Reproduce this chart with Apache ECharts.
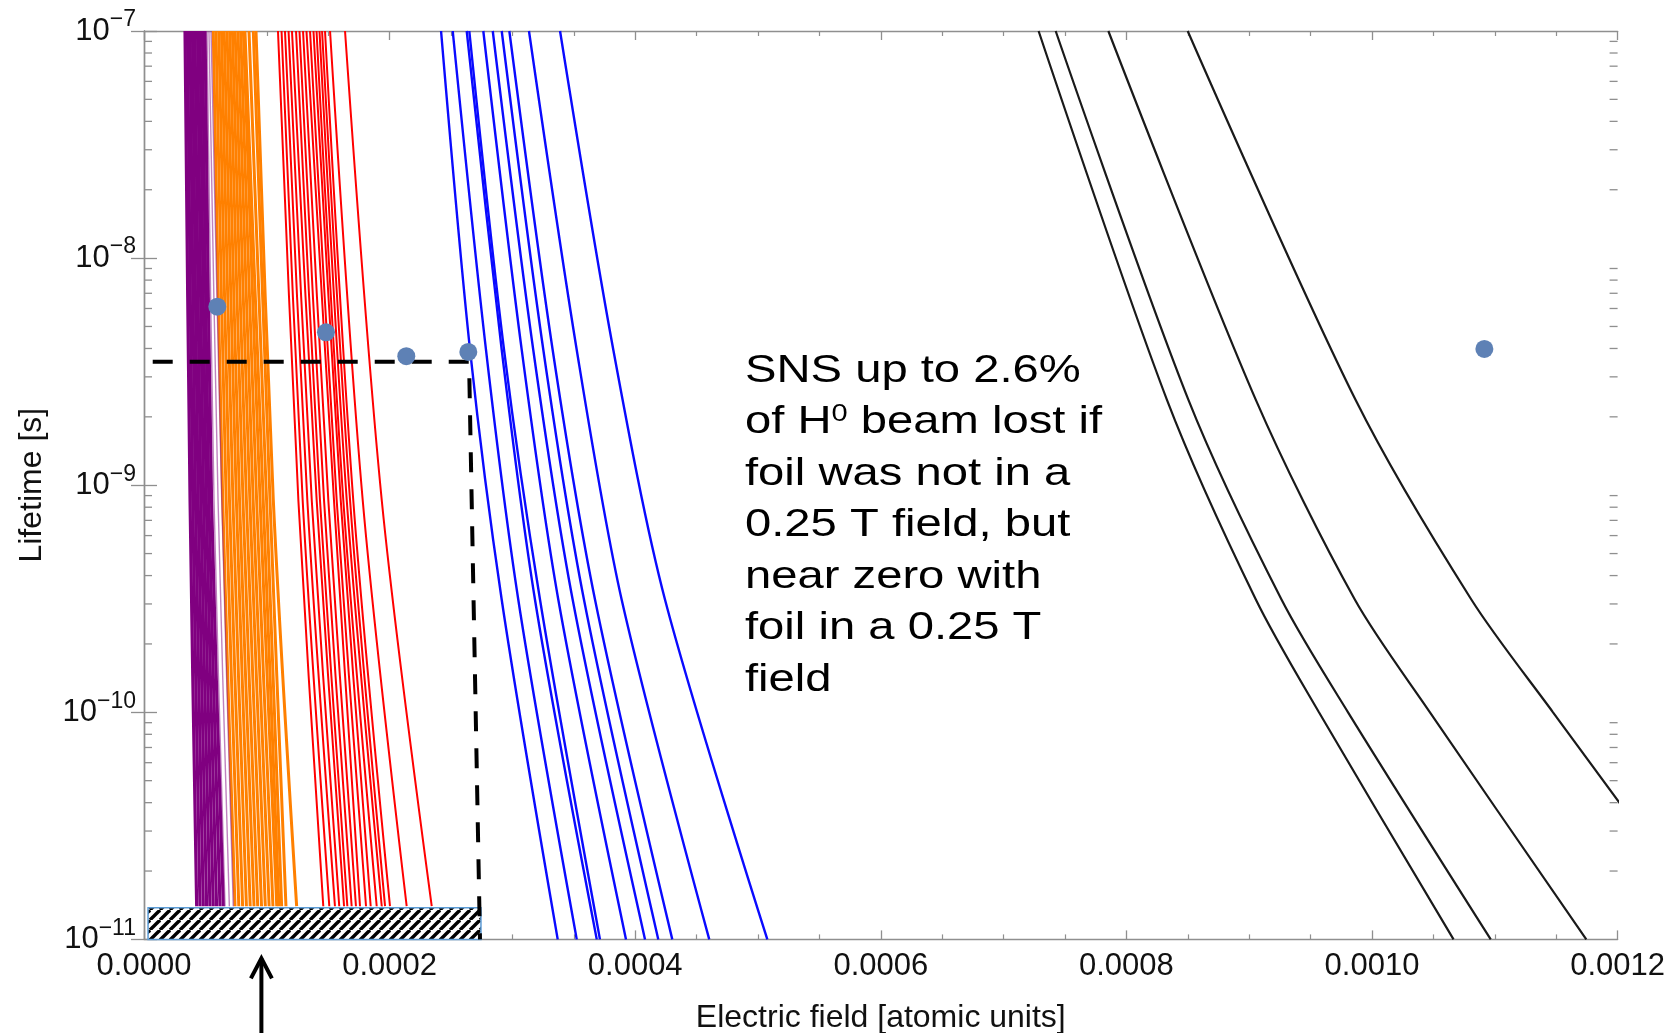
<!DOCTYPE html>
<html><head><meta charset="utf-8">
<script src="https://cdn.jsdelivr.net/npm/echarts@6/dist/echarts.min.js"></script>
<style>html,body{margin:0;padding:0;background:#fff}#c{width:1672px;height:1033px}</style>
</head><body><div id="c"></div>
<script>
// ---------- data ----------
const xMin = 0, xMax = 0.0012, xStep = 0.0002;
const yMin = 1e-11, yMax = 1e-7;

// purple bundle: x at three lifetime levels
const purpleY   = [1e-7, 8.6e-10, 1.4e-11];
const purpleTop = [3.34e-5,3.54e-5,3.75e-5,3.95e-5,4.15e-5,4.36e-5,4.56e-5,4.76e-5,4.97e-5];
const purpleMid = [3.75e-5,3.97e-5,4.19e-5,4.41e-5,4.63e-5,4.85e-5,5.07e-5,5.28e-5,5.50e-5];
const purpleBot = [4.29e-5,4.56e-5,4.83e-5,5.10e-5,5.37e-5,5.64e-5,5.91e-5,6.19e-5,6.46e-5];
const purpleFaintTop = [5.13e-5,5.29e-5,5.46e-5];
const purpleFaintMid = [5.70e-5,6.03e-5,6.33e-5];
const purpleFaintBot = [6.60e-5,6.95e-5,7.27e-5];

// orange bundle
const orangeY   = [1e-7, 8.6e-10, 1.4e-11];
const orangeTop = [5.64e-5,5.86e-5,6.09e-5,6.31e-5,6.53e-5,6.76e-5,6.98e-5,7.20e-5,7.42e-5,7.65e-5,7.87e-5,8.09e-5,8.22e-5,8.55e-5,8.90e-5,9.12e-5];
const orangeMid = [6.41e-5,6.69e-5,6.96e-5,7.24e-5,7.52e-5,7.78e-5,8.06e-5,8.34e-5,8.62e-5,8.89e-5,9.17e-5,9.45e-5,9.71e-5,9.98e-5,1.026e-4,1.053e-4];
const orangeBot = [7.41e-5,7.72e-5,8.03e-5,8.34e-5,8.65e-5,8.96e-5,9.26e-5,9.57e-5,9.88e-5,1.019e-4,1.050e-4,1.081e-4,1.099e-4,1.121e-4,1.156e-4,1.243e-4];

// red bundle
const redY   = [1e-7, 8.6e-10, 1.4e-11];
const redTop = [1.091e-4,1.120e-4,1.148e-4,1.177e-4,1.205e-4,1.238e-4,1.266e-4,1.295e-4,1.323e-4,1.352e-4,1.380e-4,1.405e-4,1.429e-4,1.450e-4,1.474e-4,1.515e-4,1.637e-4];
const redMid = [1.257e-4,1.292e-4,1.330e-4,1.366e-4,1.406e-4,1.433e-4,1.466e-4,1.501e-4,1.547e-4,1.569e-4,1.602e-4,1.623e-4,1.651e-4,1.678e-4,1.704e-4,1.781e-4,1.936e-4];
const redBot = [1.460e-4,1.509e-4,1.555e-4,1.590e-4,1.629e-4,1.656e-4,1.691e-4,1.726e-4,1.759e-4,1.808e-4,1.846e-4,1.895e-4,1.936e-4,1.963e-4,2.003e-4,2.139e-4,2.343e-4];

// blue curves: x at four lifetime levels
const blueY  = [1e-7, 3.94e-9, 3.13e-10, 1e-11];
const blueL0 = [2.419e-4,2.514e-4,2.628e-4,2.649e-4,2.763e-4,2.840e-4,2.913e-4,2.975e-4,3.135e-4,3.388e-4];
const blueL1 = [2.655e-4,2.785e-4,2.913e-4,2.932e-4,3.076e-4,3.170e-4,3.252e-4,3.328e-4,3.524e-4,3.822e-4];
const blueL2 = [2.913e-4,3.048e-4,3.184e-4,3.225e-4,3.374e-4,3.491e-4,3.583e-4,3.673e-4,3.890e-4,4.243e-4];
const blueL3 = [3.369e-4,3.524e-4,3.687e-4,3.713e-4,3.925e-4,4.080e-4,4.188e-4,4.302e-4,4.603e-4,5.076e-4];

// black curves: x at five lifetime levels
const blackY  = [1e-7, 2.37e-9, 3.13e-10, 1e-10, 1e-11];
const blackL0 = [7.285e-4, 7.424e-4, 7.853e-4, 8.499e-4];
const blackL1 = [8.331e-4, 8.506e-4, 9.055e-4, 9.867e-4];
const blackL2 = [9.055e-4, 9.264e-4, 9.861e-4, 1.0810e-3];
const blackL3 = [9.568e-4, 9.805e-4, 1.0472e-3, 1.1474e-3];
const blackL4 = [1.0664e-3, 1.0967e-3, 1.1745e-3, 1.2834e-3];

// blue dots
const dotsX = [5.97e-5, 1.482e-4, 2.136e-4, 2.641e-4, 1.0915e-3];
const dotsY = [6.11e-9, 4.71e-9, 3.70e-9, 3.86e-9, 3.98e-9];

// dashed guide
const dashX = [7.1e-6, 2.647e-4, 2.736e-4];
const dashY = [3.50e-9, 3.50e-9, 1e-11];

// hatched box
const hatchX = [3.3e-6, 2.744e-4];
const hatchY = [1e-11, 1.38e-11];

// arrow below axis
const arrowX = 9.56e-5;

const annotation = 'SNS up to 2.6%\nof H{sup|0} beam lost if\nfoil was not in a\n0.25 T field, but\nnear zero with\nfoil in a 0.25 T\nfield';

// ---------- chart ----------
const FONT = "'Liberation Sans', Arial, Helvetica, sans-serif";
const FRAME = '#8f8f8f';
const chart = echarts.init(document.getElementById('c'), null, {renderer: 'canvas'});

function bundle(levels, ys, color, width, opacity, z, smooth) {
  const out = [];
  for (let i = 0; i < levels[0].length; i++) {
    out.push({
      type: 'line', silent: true, symbol: 'none', showSymbol: false, animation: false, z: z,
      smooth: smooth,
      data: ys.map((y, k) => [levels[k][i], y]),
      lineStyle: {color: color, width: width, opacity: opacity}
    });
  }
  return out;
}

const series = [].concat(
  bundle([blackL0, blackL1, blackL2, blackL3, blackL4], blackY, '#1a1a1a', 2.2, 1, 2, 0.3),
  bundle([blueL0, blueL1, blueL2, blueL3], blueY, '#0a0aff', 2.4, 1, 2, 0.3),
  bundle([redTop, redMid, redBot], redY, '#ff0000', 2, 1, 2, 0.3),
  bundle([orangeTop, orangeMid, orangeBot], orangeY, '#ff8000', 3, 1, 2, 0.3),
  bundle([purpleTop, purpleMid, purpleBot], purpleY, '#800080', 3.2, 1, 2, 0.3),
  bundle([purpleFaintTop, purpleFaintMid, purpleFaintBot], purpleY, '#8a1a8a', 1.4, 0.55, 2, 0.3)
);

// hatch pattern
const pc = document.createElement('canvas');
pc.width = 10; pc.height = 10;
const g = pc.getContext('2d');
g.fillStyle = '#fff'; g.fillRect(0, 0, 10, 10);
g.strokeStyle = '#000'; g.lineWidth = 3.4;
[-10, 0, 10].forEach(k => { g.beginPath(); g.moveTo(k, 10); g.lineTo(k + 10, 0); g.stroke(); });

series.push({
  type: 'custom', silent: true, animation: false, z: 5,
  data: [[hatchX[0], hatchY[1], hatchX[1], hatchY[0]]],
  renderItem: function (params, api) {
    const p0 = api.coord([api.value(0), api.value(1)]);
    const p1 = api.coord([api.value(2), api.value(3)]);
    return {type: 'rect', shape: {x: p0[0], y: p0[1], width: p1[0] - p0[0], height: p1[1] - p0[1]},
      style: {fill: {image: pc, repeat: 'repeat'}, stroke: '#5b9bd5', lineWidth: 1.5}};
  }
});

series.push({
  type: 'line', silent: true, symbol: 'none', animation: false, z: 6,
  data: dashX.map((x, i) => [x, dashY[i]]),
  lineStyle: {color: '#000', width: 4, type: [20, 17]}
});

series.push({
  type: 'scatter', silent: true, animation: false, z: 8,
  symbolSize: 18,
  itemStyle: {color: '#5e81b5', opacity: 1},
  data: dotsX.map((x, i) => [x, dotsY[i]])
});

// minor ticks of the log axis (2..9 of each decade), drawn through the axis scale
const minorY = [];
for (let e = -11; e < -7; e++) for (let m = 2; m <= 9; m++) minorY.push([xMin, m * Math.pow(10, e)]);
series.push({
  type: 'custom', silent: true, animation: false, z: 9,
  data: minorY,
  renderItem: function (params, api) {
    const l = api.coord([xMin, api.value(1)]);
    const r = api.coord([xMax, api.value(1)]);
    const st = {stroke: FRAME, lineWidth: 1.3};
    return {type: 'group', children: [
      {type: 'line', shape: {x1: l[0], y1: l[1], x2: l[0] + 8, y2: l[1]}, style: st},
      {type: 'line', shape: {x1: r[0] - 8, y1: r[1], x2: r[0], y2: r[1]}, style: st}
    ]};
  }
});

const axLine = {show: true, lineStyle: {color: FRAME, width: 1.4}};
const xCommon = {
  type: 'value', min: xMin, max: xMax, interval: xStep,
  axisLine: axLine, splitLine: {show: false},
  axisTick: {show: true, inside: true, length: 9, lineStyle: {color: FRAME, width: 1.3}},
  minorTick: {show: true, splitNumber: 4, length: 5, lineStyle: {color: FRAME, width: 1.2}},
  minorSplitLine: {show: false}
};
const yCommon = {
  type: 'log', logBase: 10, min: yMin, max: yMax,
  axisLine: axLine, splitLine: {show: false},
  axisTick: {show: true, inside: true, length: 13, lineStyle: {color: FRAME, width: 1.3}},
  minorTick: {show: false}
};

chart.setOption({
  animation: false,
  backgroundColor: '#fff',
  grid: {left: 144, right: 54.4, top: 31, bottom: 93.6, containLabel: false, outerBoundsMode: 'none'},
  xAxis: [
    Object.assign({}, xCommon, {
      position: 'bottom',
      name: 'Electric field [atomic units]', nameLocation: 'middle', nameGap: 63,
      nameTextStyle: {fontFamily: FONT, fontSize: 32, color: '#111'},
      axisLabel: {show: true, margin: 12, fontFamily: FONT, fontSize: 31, color: '#111',
        formatter: v => v.toFixed(4)}
    }),
    Object.assign({}, xCommon, {position: 'top', axisLabel: {show: false}})
  ],
  yAxis: [
    Object.assign({}, yCommon, {
      position: 'left',
      name: 'Lifetime [s]', nameLocation: 'middle', nameGap: 96, nameRotate: 90,
      nameTextStyle: {fontFamily: FONT, fontSize: 32, color: '#111'},
      axisLabel: {show: true, margin: 8, color: '#111',
        formatter: v => '{b|10}{s|\u2212' + (-Math.round(Math.log10(v))) + '}',
        rich: {
          b: {fontFamily: FONT, fontSize: 31, lineHeight: 31, color: '#111'},
          s: {fontFamily: FONT, fontSize: 23, lineHeight: 23, padding: [0, 0, 22, 0], color: '#111'}
        }}
    }),
    Object.assign({}, yCommon, {position: 'right', axisLabel: {show: false}})
  ],
  series: series
});

// annotation + arrow
const ax = chart.convertToPixel({xAxisIndex: 0}, arrowX);
const bottomY = chart.convertToPixel({yAxisIndex: 0}, yMin);
chart.setOption({
  graphic: [
    {type: 'text', x: 745, y: 345, scaleX: 1.21, originX: 0, originY: 0, z: 20, silent: true,
      style: {text: annotation, fontFamily: FONT, fontSize: 39, lineHeight: 51.5, fill: '#000',
        align: 'left', verticalAlign: 'top',
        rich: {sup: {fontFamily: FONT, fontSize: 24, lineHeight: 24, padding: [0, 0, 16, 0], fill: '#000'}}}},
    {type: 'line', silent: true, z: 20,
      shape: {x1: ax, y1: bottomY + 19, x2: ax, y2: 1033},
      style: {stroke: '#000', lineWidth: 4}},
    {type: 'polyline', silent: true, z: 20,
      shape: {points: [[ax - 10.5, bottomY + 39], [ax, bottomY + 19], [ax + 10.5, bottomY + 39]]},
      style: {stroke: '#000', lineWidth: 4, fill: null, lineJoin: 'miter'}}
  ]
});
</script></body></html>
